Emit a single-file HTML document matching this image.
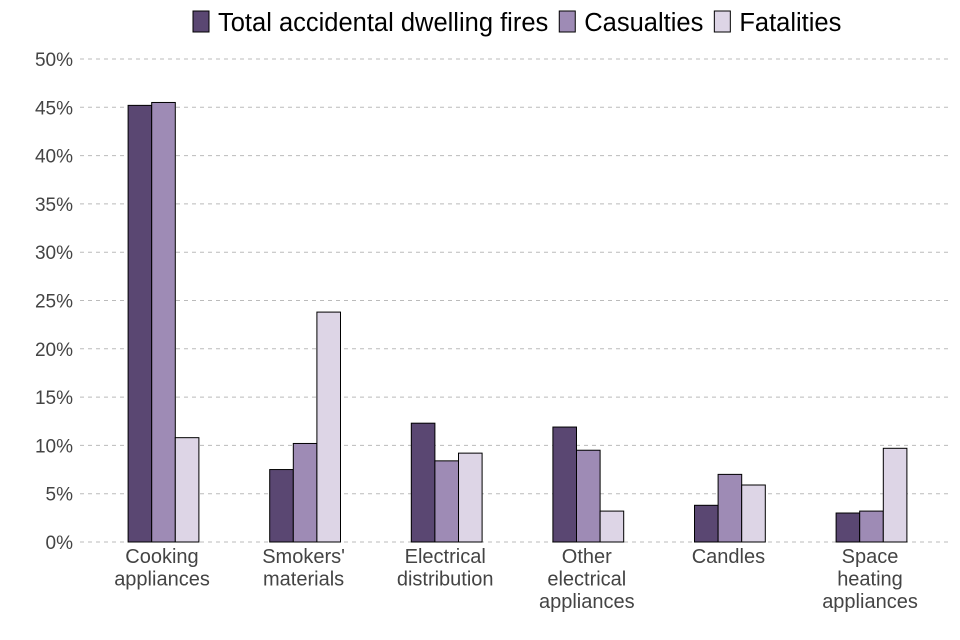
<!DOCTYPE html>
<html><head><meta charset="utf-8"><style>
body{margin:0;background:#fff;}
svg{display:block;font-family:"Liberation Sans",Arial,sans-serif;}
</style></head><body>
<svg id="chart" width="960" height="640">
<g id="grid"></g>
<g id="yaxis"></g>
<g id="bars"></g>
<g id="xaxis"></g>
<g id="legend"></g>
</svg>
<script>
const categories=[["Cooking","appliances"],["Smokers'","materials"],["Electrical","distribution"],["Other","electrical","appliances"],["Candles"],["Space","heating","appliances"]];
const seriesNames=["Total accidental dwelling fires","Casualties","Fatalities"];
const totalFires=[45.2,7.5,12.3,11.9,3.8,3.0];
const casualties=[45.5,10.2,8.4,9.5,7.0,3.2];
const fatalities=[10.8,23.8,9.2,3.2,5.9,9.7];
const yTicks=[0,5,10,15,20,25,30,35,40,45,50];
const colors=["#5a4772","#9e8bb5","#ddd5e6"];
const series=[totalFires,casualties,fatalities];
const NS="http://www.w3.org/2000/svg";
function mk(t,a,p){const e=document.createElementNS(NS,t);for(const k in a)e.setAttribute(k,a[k]);p.appendChild(e);return e;}
const y0=542,y50=59,left=80,right=950;
const y=v=>y0-(v/50)*(y0-y50);
const step=141.6;
const xc=i=>162+step*i;
const bw=23.6;
const grid=document.getElementById('grid'),ya=document.getElementById('yaxis');
yTicks.forEach(t=>{
 const l=mk('line',{x1:left,x2:right,y1:y(t),y2:y(t),stroke:'#bbb','stroke-width':1,'stroke-dasharray':'4,4'},grid);
 
 
 const tx=mk('text',{x:73,y:y(t)+7,'text-anchor':'end','font-size':19,fill:'#444'},ya);
 tx.textContent=t+'%';
 
 
});
const bars=document.getElementById('bars'),xa=document.getElementById('xaxis');
categories.forEach((c,i)=>{
 series.forEach((s,j)=>{
  const x=xc(i)+1.5+(j-1.5)*bw;
  const r=mk('rect',{x:x,y:y(s[i]),width:bw,height:y0-y(s[i]),fill:colors[j],stroke:'#000','stroke-width':1},bars);
  
  
 });
 c.forEach((line,k)=>{
  const tx=mk('text',{x:xc(i),y:563+k*22.5,'text-anchor':'middle','font-size':20,fill:'#444'},xa);
  tx.textContent=line;
  
  
 });
});
const lg=document.getElementById('legend');
let lx=193;
seriesNames.forEach((n,j)=>{
 const r=mk('rect',{x:lx,y:11,width:16,height:21,fill:colors[j],stroke:'#000','stroke-width':1},lg);
 
 
 const tx=mk('text',{x:lx+25,y:31,'font-size':25.5,fill:'#000'},lg);
 tx.textContent=n;
 
 
 lx+=25+tx.getComputedTextLength()+11;
});
</script>
</body></html>
